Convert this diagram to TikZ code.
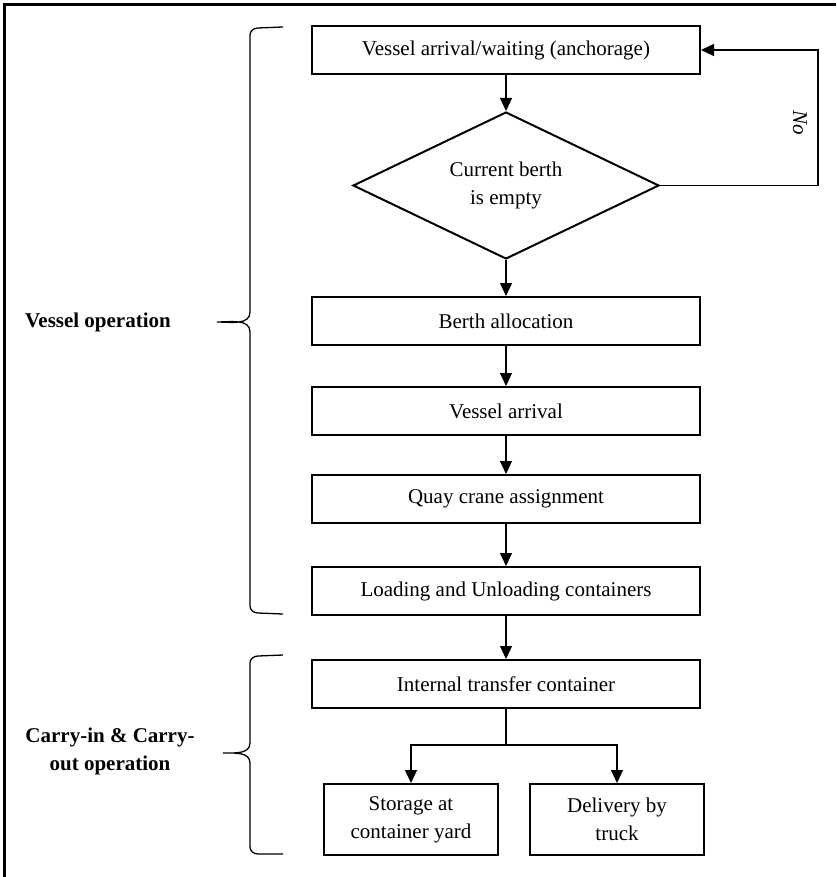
\documentclass[tikz,border=0pt]{standalone}
\usepackage{fontspec}
\setmainfont{Liberation Serif}
\usetikzlibrary{positioning,arrows.meta,shapes.geometric}

\begin{document}
\begin{tikzpicture}[x=1pt, y=-1pt,
  font=\fontsize{21}{28}\selectfont, >={Triangle[length=13pt,width=12pt]},
  stage/.style={draw, line width=2pt, minimum width=388pt,
                minimum height=48pt, inner sep=2pt, align=center},
  choice/.style={draw, diamond, aspect=2, line width=2pt, minimum width=306pt,
                 minimum height=147pt, inner sep=0pt, align=center},
  endbox/.style={draw, line width=2pt, minimum width=174pt,
                 minimum height=71pt, inner sep=2pt, align=center},
  grp/.style={font=\fontsize{21}{28}\selectfont\bfseries, align=center},
  flow/.style={->, line width=1.2pt},
  curly/.style={line width=1.3pt}]

\useasboundingbox (0,0) rectangle (836,877);
\draw[line width=3pt] (4.5,877) -- (4.5,4.5) -- (836,4.5);

\node[stage] (wait) at (506,50) {Vessel arrival/waiting (anchorage)};
\node[choice, below=36pt of wait] (empty) {Current berth\\is empty};
\node[stage, below=36pt of empty] (berth) {Berth allocation};
\node[stage, below=40pt of berth] (arr) {Vessel arrival};
\node[stage, below=38pt of arr] (quay) {Quay crane assignment};
\node[stage, below=42pt of quay] (load) {Loading and Unloading containers};
\node[stage, below=43pt of load] (itc) {Internal transfer container};
\node[endbox, below=74pt of itc, xshift=-95pt] (yard) {Storage at\\container yard};
\node[endbox, right=30pt of yard] (truck) {Delivery by\\truck};

% main flow
\draw[flow] (wait) -- (empty);
\draw[flow] (empty) -- (berth);
\draw[flow] (berth) -- (arr);
\draw[flow] (arr) -- (quay);
\draw[flow] (quay) -- (load);
\draw[flow] (load) -- (itc);
% loop back when the berth is taken
\draw[flow] (empty.east) -- ++(158,0) |- node[pos=0.23, xshift=-18pt, rotate=-90,
  font=\fontsize{21}{28}\selectfont\itshape] (no) {No} (wait.east);
% split to yard and truck
\coordinate (split) at ([yshift=-36pt]itc.south);
\draw[line width=1.2pt] (itc.south) -- (split);
\draw[flow] (split) -| (yard.north);
\draw[flow] (split) -| (truck.north);

% braces and group labels
\draw[curly] (283,27) -- (258,28) to[out=180,in=90] (250,35) -- (250,312)
  to[out=-90,in=0] (217,322) to[out=0,in=90] (250,332) -- (250,606)
  to[out=-90,in=180] (258,613) -- (283,614);
\draw[curly] (283,655) -- (258,656) to[out=180,in=90] (250,663) -- (250,743)
  to[out=-90,in=0] (223,753) to[out=0,in=90] (250,763) -- (250,847)
  to[out=-90,in=180] (258,854) -- (283,854);
\node[grp] (vop) at (98,322) {Vessel operation};
\node[grp] (cop) at (110,751) {Carry-in \& Carry-\\out operation};
\end{tikzpicture}
\end{document}
